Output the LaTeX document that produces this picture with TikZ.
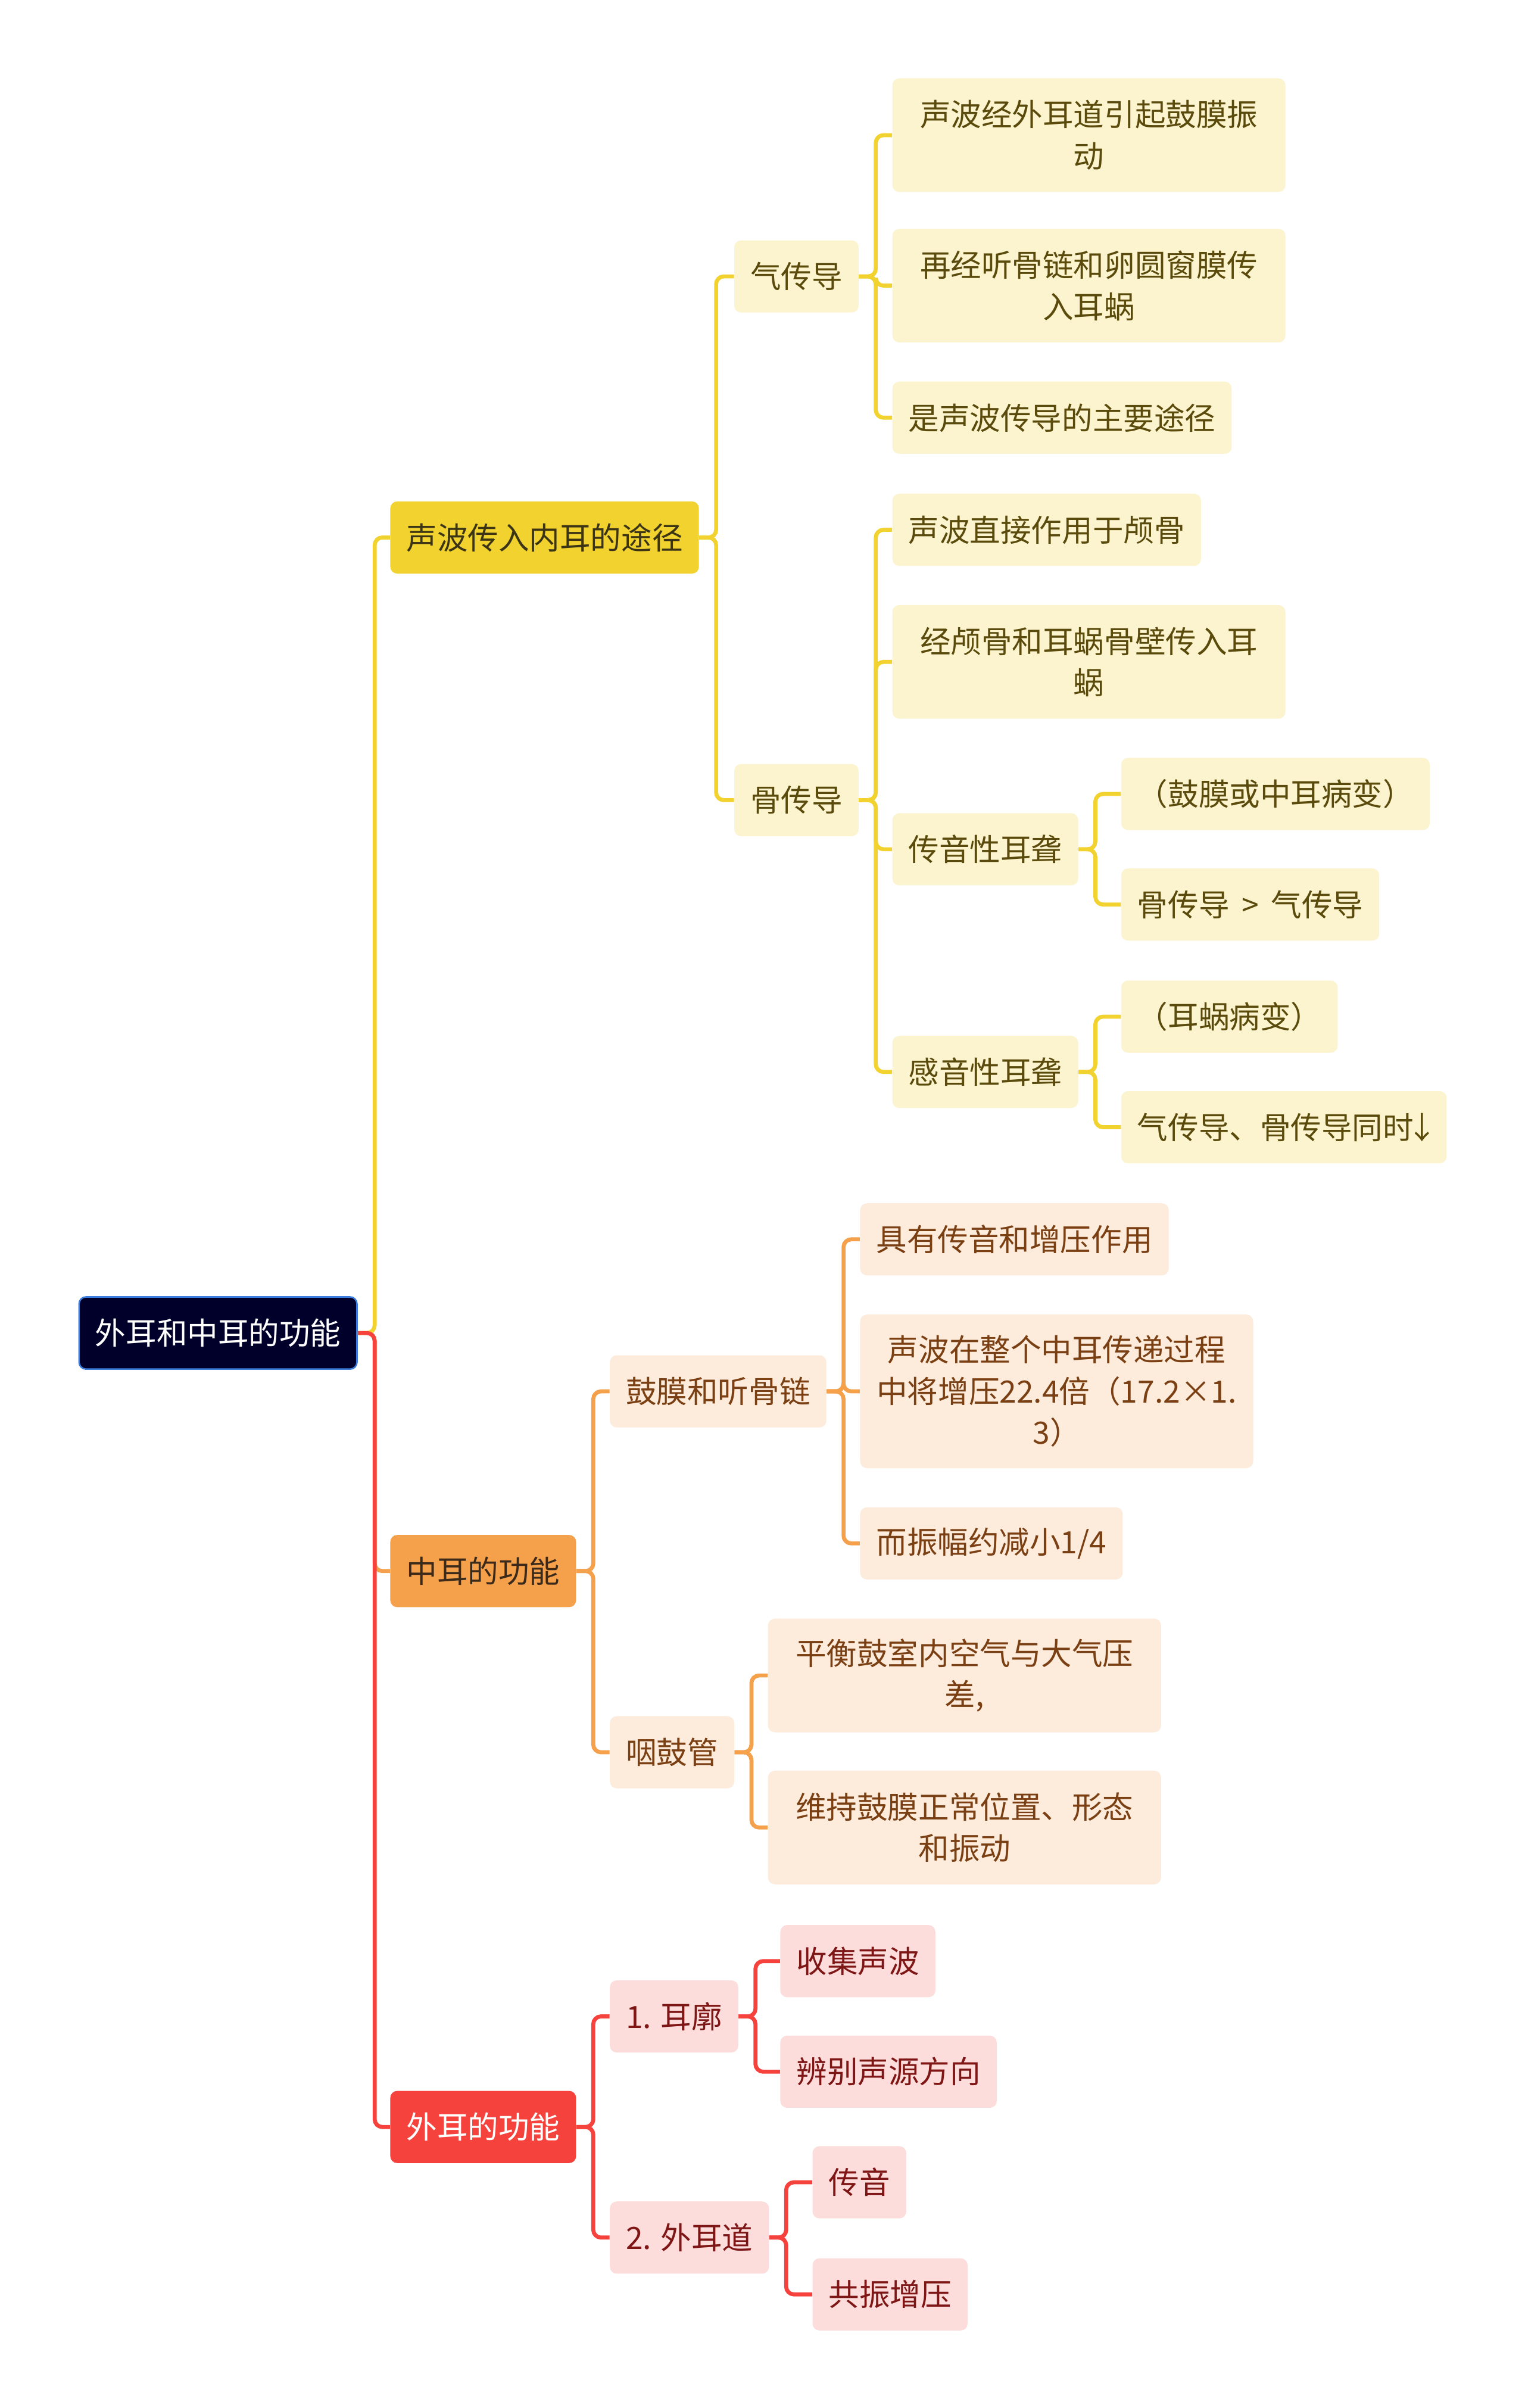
\documentclass[tikz,border=0pt]{standalone}
\usepackage{fontspec}
\setmainfont{Noto Sans CJK SC}
\usepackage{tikz}
\usetikzlibrary{positioning}

\definecolor{navy}{HTML}{00002B}
\definecolor{navyedge}{HTML}{3C7BD9}
\definecolor{yel}{HTML}{F2D22E}
\definecolor{yelpale}{HTML}{FCF4CF}
\definecolor{yeltext}{HTML}{5A4B0C}
\definecolor{yeldark}{HTML}{3B3515}
\definecolor{org}{HTML}{F5A04B}
\definecolor{orgpale}{HTML}{FDEBDB}
\definecolor{orgtext}{HTML}{7A3F12}
\definecolor{orgdark}{HTML}{3B2A1A}
\definecolor{rd}{HTML}{F5423D}
\definecolor{rdpale}{HTML}{FDDCDC}
\definecolor{rdtext}{HTML}{7E1616}

\begin{document}
\begin{tikzpicture}[x=1pt,y=1pt,
  box/.style={rounded corners=4.5pt, inner xsep=10.5pt, inner ysep=3pt, minimum height=47pt, anchor=west, font=\fontsize{20}{27}\selectfont},
  twoline/.style={minimum height=74pt, text width=235pt, align=center},
  threeline/.style={minimum height=100pt, text width=235pt, align=center},
  rootbox/.style={box, fill=navy, draw=navyedge, line width=1pt, text=white},
  ybox/.style={box, fill=yel, text=yeldark},
  ysub/.style={box, fill=yelpale, text=yeltext},
  obox/.style={box, fill=org, text=orgdark},
  osub/.style={box, fill=orgpale, text=orgtext},
  rbox/.style={box, fill=rd, text=white},
  rsub/.style={box, fill=rdpale, text=rdtext},
  link/.style={line width=2.6pt, rounded corners=5pt},
  yline/.style={link, draw=yel},
  oline/.style={link, draw=org},
  rline/.style={link, draw=rd}]
\fill[white] (0,0) rectangle (993,-1568);
\useasboundingbox (0,0) rectangle (993,-1568);

\node[rootbox] (rt) at (51,-868) {外耳和中耳的功能};
\node[ybox] (sb) at (254,-350) {声波传入内耳的途径};
\node[obox] (zr) at (254,-1023) {中耳的功能};
\node[rbox] (wr) at (254,-1385) {外耳的功能};

\node[ysub] (qc) at (478,-180) {气传导};
\node[ysub] (gc) at (478,-521) {骨传导};
\node[ysub,twoline] (q1) at (581,-88) {声波经外耳道引起鼓膜振\\动};
\node[ysub,twoline] (q2) at (581,-186) {再经听骨链和卵圆窗膜传\\入耳蜗};
\node[ysub] (q3) at (581,-272) {是声波传导的主要途径};
\node[ysub] (g1) at (581,-345) {声波直接作用于颅骨};
\node[ysub,twoline] (g2) at (581,-431) {经颅骨和耳蜗骨壁传入耳\\蜗};
\node[ysub] (g3) at (581,-553) {传音性耳聋};
\node[ysub] (g4) at (581,-698) {感音性耳聋};
\node[ysub] (c1) at (730,-517) {（鼓膜或中耳病变）};
\node[ysub] (c2) at (730,-589) {骨传导\hspace{8pt}>\hspace{8pt}气传导};
\node[ysub] (s1) at (730,-662) {（耳蜗病变）};
\node[ysub] (s2) at (730,-734) {气传导、骨传导同时\makebox[11pt]{↓}};

\node[osub] (gm) at (397,-906) {鼓膜和听骨链};
\node[osub] (yg) at (397,-1141) {咽鼓管};
\node[osub] (m1) at (560,-807) {具有传音和增压作用};
\node[osub,threeline] (m2) at (560,-906) {声波在整个中耳传递过程\\中将增压22.4倍（17.2×1.\\3）};
\node[osub] (m3) at (560,-1005) {而振幅约减小1/4};
\node[osub,twoline] (p1) at (500,-1091) {平衡鼓室内空气与大气压\\差,};
\node[osub,twoline] (p2) at (500,-1190) {维持鼓膜正常位置、形态\\和振动};

\node[rsub] (ek) at (397,-1313) {1. 耳廓};
\node[rsub] (ed) at (397,-1457) {2. 外耳道};
\node[rsub] (k1) at (508,-1277) {收集声波};
\node[rsub] (k2) at (508,-1349) {辨别声源方向};
\node[rsub] (d1) at (529,-1421) {传音};
\node[rsub] (d2) at (529,-1494) {共振增压};

\foreach \a/\b in {rt/sb, sb/qc, sb/gc, qc/q1, qc/q2, qc/q3, gc/g1, gc/g2, gc/g3, gc/g4, g3/c1, g3/c2, g4/s1, g4/s2}
  \draw[yline] (\a.east) -- ++(11,0) |- (\b.west);
\foreach \a/\b in {rt/zr, zr/gm, zr/yg, gm/m1, gm/m2, gm/m3, yg/p1, yg/p2}
  \draw[oline] (\a.east) -- ++(11,0) |- (\b.west);
\foreach \a/\b in {rt/wr, wr/ek, wr/ed, ek/k1, ek/k2, ed/d1, ed/d2}
  \draw[rline] (\a.east) -- ++(11,0) |- (\b.west);
\end{tikzpicture}
\end{document}
